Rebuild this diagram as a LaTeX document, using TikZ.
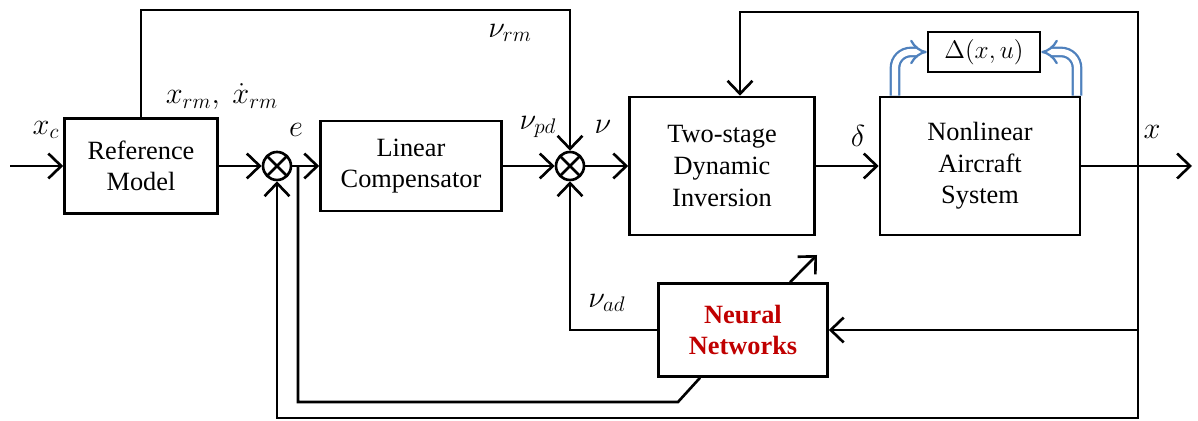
\documentclass[tikz,border=0pt]{standalone}
\usepackage{fontspec}
\setmainfont{Liberation Serif}
\usetikzlibrary{arrows.meta}
\definecolor{nnred}{RGB}{192,0,0}
\definecolor{arrblue}{RGB}{79,129,189}

\begin{document}
\begin{tikzpicture}[x=0.02cm, y=-0.02cm, line width=1.5pt,
    >={Straight Barb[length=2.6mm,width=5mm]},
    block/.style={draw, align=center, font=\fontsize{15}{18}\selectfont, inner sep=2pt},
    sumnode/.style={draw, circle, minimum size=0.56cm, inner sep=0pt,
        path picture={\draw (path picture bounding box.north west) -- (path picture bounding box.south east)
            (path picture bounding box.north east) -- (path picture bounding box.south west);}},
    lbl/.style={font=\LARGE},
    dbl/.style={draw=arrblue, double=white, double distance=3.5pt, line width=1.3pt, rounded corners=9pt, -{Implies}}]
    \useasboundingbox (0,0) rectangle (1198,421);

    \node[block, minimum width=3.06cm, minimum height=1.9cm] (refm) at (141,166) {Reference\\Model};
    \node[sumnode] (sa) at (277,166) {};
    \node[block, minimum width=3.62cm, minimum height=1.8cm] (lc) at (411,166) {Linear\\Compensator};
    \node[sumnode] (sb) at (570,166) {};
    \node[block, minimum width=3.7cm, minimum height=2.76cm] (tsdi) at (722,166) {Two-stage\\Dynamic\\Inversion};
    \node[block, minimum width=4cm, minimum height=2.76cm] (nas) at (980,166) {Nonlinear\\Aircraft\\System};
    \node[block, minimum width=2.24cm, minimum height=0.8cm, font=\Large] (dlt) at (984,52) {$\Delta(x,u)$};
    \node[block, minimum width=3.38cm, minimum height=1.86cm, text=nnred,
        font=\fontsize{15}{18}\selectfont\bfseries] (nn) at (743,330) {Neural\\Networks};

    \coordinate (xin) at (10,166);
    \coordinate (xout) at (1192,166);
    \coordinate (br) at (1138,166);
    \coordinate (rmtop) at (141,10);
    \coordinate (fbtop) at (1138,12);
    \coordinate (botr) at (1138,418);
    \coordinate (ebr) at (298,166);
    \coordinate (ebot) at (298,402);
    \coordinate (ekink) at (678,402);
    \coordinate (adpt) at (817,255);

    \draw[->] (xin) -- (refm);
    \draw[->] (refm) -- (sa);
    \draw[->] (sa) -- (lc);
    \draw[->] (lc) -- (sb);
    \draw[->] (sb) -- (tsdi);
    \draw[->] (tsdi) -- (nas);
    \draw[->] (nas) -- (xout);
    \draw[->] (refm.north) -- (rmtop) -| (sb.north);
    \draw[->] (br) -- (fbtop) -| ([xshift=0.36cm]tsdi.north);
    \draw[->] (br) |- (nn.east);
    \draw[->] (br) -- (botr) -| (sa.south);
    \draw[->] (nn.west) -| (sb.south);
    \draw (ebr) -- (ebot) -- (ekink) -- ([xshift=-0.86cm]nn.south);
    \draw[->] ([xshift=0.94cm]nn.north) -- (adpt);
    \draw[dbl] ([xshift=-1.7cm]nas.north) |- (dlt.west);
    \draw[dbl] ([xshift=1.94cm]nas.north) |- (dlt.east);

    \node[lbl] (lxc) at (46,130) {$x_c$};
    \node[lbl] (lxrm) at (222,97) {$x_{rm},\ \dot{x}_{rm}$};
    \node[lbl] (lnurm) at (510,33) {$\nu_{rm}$};
    \node[lbl] (le) at (296,130) {$e$};
    \node[lbl] (lnupd) at (538,127) {$\nu_{pd}$};
    \node[lbl] (lnu) at (603,127) {$\nu$};
    \node[lbl] (ldelta) at (858,136) {$\delta$};
    \node[lbl] (lx) at (1152,132) {$x$};
    \node[lbl] (lnuad) at (607,303) {$\nu_{ad}$};
\end{tikzpicture}
\end{document}
